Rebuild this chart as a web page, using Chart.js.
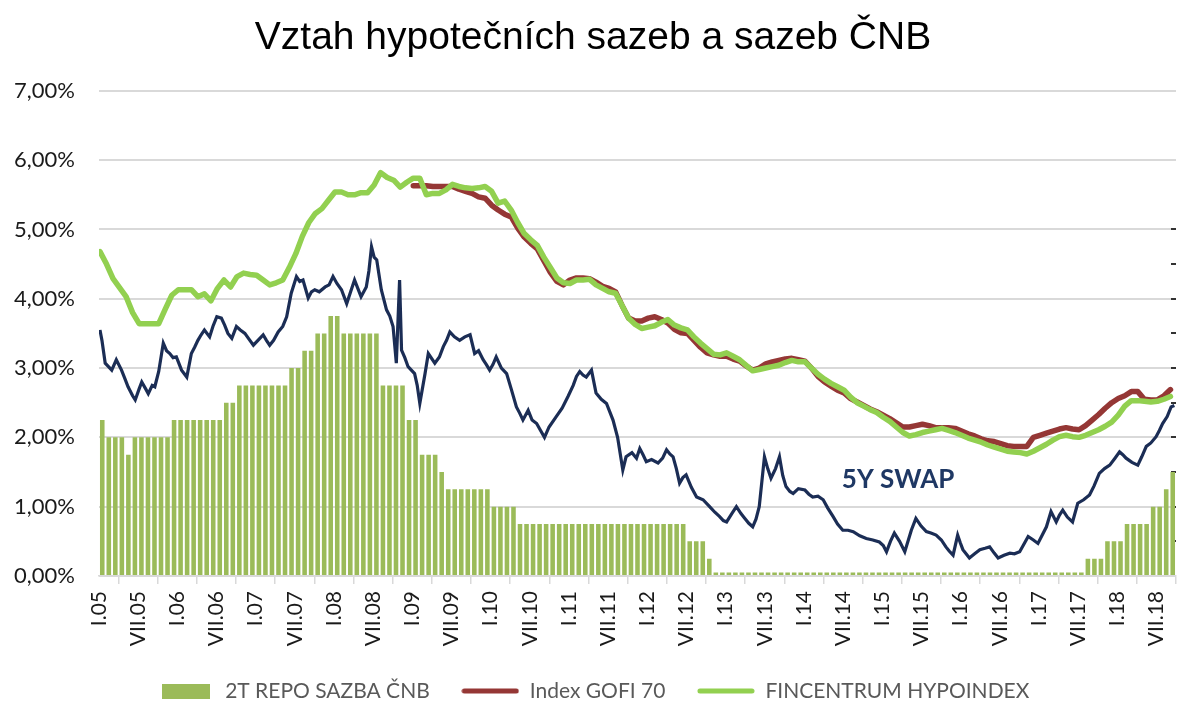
<!DOCTYPE html>
<html>
<head>
<meta charset="utf-8">
<script src="https://cdn.jsdelivr.net/npm/chart.js@4.4.1/dist/chart.umd.min.js"></script>
<style>
html,body{margin:0;padding:0;background:#fff;}
#wrap{width:1192px;height:724px;}
</style>
</head>
<body>
<div id="wrap"><canvas id="c" width="1192" height="724"></canvas></div>
<script>
const chartTitle = 'Vztah hypotečních sazeb a sazeb ČNB';
const seriesNames = ['2T REPO SAZBA ČNB', 'Index GOFI 70', 'FINCENTRUM HYPOINDEX', '5Y SWAP'];
const xTickLabels = ['I.05','VII.05','I.06','VII.06','I.07','VII.07','I.08','VII.08','I.09','VII.09',
  'I.10','VII.10','I.11','VII.11','I.12','VII.12','I.13','VII.13','I.14','VII.14','I.15','VII.15',
  'I.16','VII.16','I.17','VII.17','I.18','VII.18'];
const yTickValues = [0, 1, 2, 3, 4, 5, 6, 7];
const rightTickValues = [0.5, 1, 1.5, 2, 2.5, 3, 3.5, 4, 4.5, 5];

// monthly values, January 2005 .. September 2018 (one row per year)
const repoRate = [
  2.25,2.00,2.00,2.00,1.75,2.00,2.00,2.00,2.00,2.00,2.00,2.25,
  2.25,2.25,2.25,2.25,2.25,2.25,2.25,2.50,2.50,2.75,2.75,2.75,
  2.75,2.75,2.75,2.75,2.75,3.00,3.00,3.25,3.25,3.50,3.50,3.75,
  3.75,3.50,3.50,3.50,3.50,3.50,3.50,2.75,2.75,2.75,2.75,2.25,
  2.25,1.75,1.75,1.75,1.50,1.25,1.25,1.25,1.25,1.25,1.25,1.25,
  1.00,1.00,1.00,1.00,0.75,0.75,0.75,0.75,0.75,0.75,0.75,0.75,
  0.75,0.75,0.75,0.75,0.75,0.75,0.75,0.75,0.75,0.75,0.75,0.75,
  0.75,0.75,0.75,0.75,0.75,0.75,0.50,0.50,0.50,0.25,0.05,0.05,
  0.05,0.05,0.05,0.05,0.05,0.05,0.05,0.05,0.05,0.05,0.05,0.05,
  0.05,0.05,0.05,0.05,0.05,0.05,0.05,0.05,0.05,0.05,0.05,0.05,
  0.05,0.05,0.05,0.05,0.05,0.05,0.05,0.05,0.05,0.05,0.05,0.05,
  0.05,0.05,0.05,0.05,0.05,0.05,0.05,0.05,0.05,0.05,0.05,0.05,
  0.05,0.05,0.05,0.05,0.05,0.05,0.05,0.25,0.25,0.25,0.50,0.50,
  0.50,0.75,0.75,0.75,0.75,1.00,1.00,1.25,1.50
];

const gofi70 = [
  null,null,null,null,null,null,null,null,null,null,null,null,
  null,null,null,null,null,null,null,null,null,null,null,null,
  null,null,null,null,null,null,null,null,null,null,null,null,
  null,null,null,null,null,null,null,null,null,null,null,null,
  5.63,5.63,5.63,5.62,5.62,5.62,5.62,5.58,5.55,5.52,5.47,5.45,
  5.35,5.28,5.22,5.18,5.02,4.89,4.80,4.72,4.55,4.38,4.25,4.20,
  4.27,4.30,4.30,4.29,4.24,4.18,4.15,4.10,3.90,3.72,3.68,3.68,
  3.72,3.74,3.70,3.65,3.56,3.51,3.50,3.40,3.30,3.22,3.19,3.17,
  3.17,3.13,3.10,3.03,2.97,3.00,3.06,3.09,3.11,3.13,3.14,3.12,
  3.10,3.00,2.88,2.80,2.74,2.68,2.64,2.56,2.51,2.46,2.41,2.37,
  2.32,2.27,2.21,2.15,2.15,2.17,2.19,2.17,2.14,2.14,2.14,2.13,
  2.09,2.05,2.02,1.98,1.95,1.94,1.91,1.88,1.87,1.87,1.87,2.00,
  2.03,2.06,2.09,2.12,2.14,2.12,2.11,2.17,2.25,2.33,2.42,2.50,
  2.56,2.60,2.66,2.66,2.55,2.54,2.54,2.60,2.69
];

const hypoindex = [
  4.68,4.50,4.29,4.16,4.03,3.80,3.64,3.64,3.64,3.64,3.85,4.05,
  4.13,4.13,4.13,4.03,4.07,3.97,4.15,4.27,4.17,4.32,4.37,4.35,
  4.34,4.27,4.20,4.23,4.27,4.45,4.65,4.90,5.10,5.23,5.30,5.42,
  5.54,5.54,5.50,5.50,5.53,5.53,5.64,5.82,5.75,5.71,5.61,5.68,
  5.74,5.74,5.50,5.52,5.52,5.57,5.65,5.62,5.60,5.59,5.60,5.62,
  5.55,5.38,5.41,5.28,5.10,4.94,4.85,4.77,4.60,4.45,4.30,4.23,
  4.22,4.27,4.27,4.28,4.20,4.15,4.10,4.08,3.90,3.72,3.63,3.57,
  3.59,3.61,3.66,3.70,3.62,3.58,3.55,3.45,3.36,3.28,3.20,3.19,
  3.22,3.17,3.12,3.04,2.96,2.98,3.00,3.02,3.04,3.08,3.11,3.09,
  3.09,3.00,2.91,2.84,2.78,2.73,2.68,2.58,2.50,2.45,2.40,2.36,
  2.29,2.23,2.15,2.07,2.02,2.04,2.07,2.09,2.11,2.13,2.10,2.07,
  2.03,1.99,1.96,1.93,1.89,1.86,1.83,1.80,1.79,1.78,1.76,1.80,
  1.85,1.90,1.96,2.01,2.03,2.01,2.00,2.03,2.07,2.11,2.16,2.22,
  2.32,2.45,2.53,2.53,2.52,2.51,2.52,2.55,2.59
];

// 5Y swap: readings at fractional month positions (months since Jan 2005)
const swapMonth = [
  0.0,0.3,0.8,1.3,1.8,2.5,3.3,3.8,4.3,5.0,5.4,6.0,6.4,7.0,7.4,8.0,8.4,9.0,9.7,10.2,10.7,11.2,11.7,
  12.5,13.3,14.0,14.5,15.0,15.5,16.0,16.8,17.3,17.9,18.6,19.1,19.6,20.2,20.9,21.5,22.2,22.8,23.5,
  24.2,25.0,25.5,26.0,26.6,27.3,28.0,28.6,29.3,30.1,30.6,31.1,31.9,32.4,32.9,33.6,34.5,35.1,35.7,
  36.3,37.0,37.8,38.4,39.0,39.5,40.0,40.8,41.2,41.6,42.0,42.4,43.1,43.9,44.4,44.9,45.4,45.9,46.2,46.7,47.2,
  48.2,48.6,49.0,49.8,50.3,51.3,52.0,52.6,53.1,53.6,54.3,55.1,55.9,56.7,57.4,58.0,58.7,59.2,59.7,
  60.2,60.7,61.5,62.3,63.0,63.8,64.3,64.8,65.6,66.2,66.9,67.5,68.1,68.8,69.9,70.8,71.7,
  72.5,73.0,73.5,74.0,74.5,75.3,76.0,76.8,77.6,78.6,79.3,80.1,80.6,81.5,82.2,82.7,83.2,83.7,
  84.5,85.5,86.2,86.8,87.3,87.8,88.3,88.8,89.3,89.8,90.6,91.4,92.4,93.4,94.2,94.9,95.5,
  96.0,96.8,97.5,98.2,98.8,99.4,100.0,100.5,101.0,101.8,102.3,102.8,103.5,104.1,104.6,105.1,105.7,106.2,107.0,
  108.0,108.6,109.2,110.0,110.8,111.5,112.3,113.0,113.8,114.6,115.4,116.4,117.4,118.4,119.4,
  120.0,120.5,121.1,121.7,122.5,123.3,124.3,125.0,125.8,126.6,127.3,128.1,128.9,129.6,130.1,130.7,131.4,131.8,
  132.2,133.2,134.0,134.8,135.6,136.3,137.0,137.6,138.5,139.4,140.1,140.9,141.5,142.2,143.0,143.7,
  144.4,145.0,145.7,146.5,147.0,147.5,148.2,149.0,149.8,150.7,151.6,152.3,153.1,153.9,154.7,155.5,
  156.2,156.7,157.2,158.1,159.0,159.6,160.3,161.0,161.8,162.3,162.8,163.5,164.1,164.6
];
const swapRate = [
  3.55,3.40,3.07,3.02,2.97,3.12,2.97,2.85,2.73,2.60,2.54,2.70,2.80,2.70,2.63,2.75,2.73,2.95,3.36,3.25,3.21,3.15,3.16,
  2.97,2.87,3.21,3.30,3.40,3.48,3.55,3.45,3.60,3.74,3.72,3.62,3.50,3.43,3.60,3.55,3.50,3.42,3.33,
  3.40,3.48,3.40,3.33,3.40,3.52,3.60,3.74,4.08,4.32,4.25,4.27,4.01,4.10,4.13,4.10,4.17,4.20,4.32,
  4.22,4.13,3.93,4.10,4.27,4.15,4.03,4.17,4.40,4.75,4.60,4.56,4.13,3.84,3.75,3.60,3.07,4.27,3.26,3.15,3.02,
  2.92,2.75,2.49,2.92,3.21,3.07,3.16,3.31,3.40,3.52,3.45,3.40,3.45,3.48,3.21,3.25,3.12,3.05,2.97,
  3.05,3.16,3.00,2.92,2.70,2.44,2.35,2.25,2.39,2.25,2.20,2.10,2.00,2.15,2.30,2.42,2.59,
  2.75,2.88,2.95,2.90,2.87,2.97,2.64,2.55,2.49,2.25,2.00,1.53,1.72,1.78,1.70,1.84,1.75,1.65,
  1.68,1.63,1.70,1.82,1.76,1.72,1.55,1.34,1.42,1.46,1.28,1.14,1.10,1.00,0.92,0.86,0.80,
  0.78,0.90,1.00,0.90,0.83,0.76,0.71,0.82,1.00,1.72,1.55,1.41,1.55,1.72,1.45,1.29,1.22,1.19,1.26,
  1.24,1.18,1.14,1.15,1.10,0.98,0.86,0.75,0.66,0.66,0.64,0.58,0.54,0.52,0.49,
  0.44,0.35,0.50,0.62,0.50,0.35,0.66,0.83,0.72,0.64,0.62,0.59,0.52,0.42,0.36,0.30,0.59,0.48,
  0.38,0.26,0.32,0.38,0.40,0.42,0.33,0.26,0.30,0.33,0.32,0.35,0.45,0.57,0.52,0.47,
  0.60,0.71,0.93,0.78,0.88,0.95,0.85,0.78,1.05,1.10,1.17,1.30,1.48,1.55,1.60,1.70,
  1.79,1.75,1.70,1.64,1.60,1.72,1.87,1.92,2.01,2.10,2.20,2.30,2.44,2.46
];

const swapLabel = { text: '5Y SWAP', month: 113.8, value: 1.39 };

const colors = { repo: '#9bbb59', gofi: '#953735', hypo: '#92d050', swap: '#1b2d55', grid: '#d9d9d9' };

function lineIcon(color) {
  const cv = document.createElement('canvas');
  cv.width = 58; cv.height = 8;
  const g = cv.getContext('2d');
  g.strokeStyle = color; g.lineWidth = 5; g.lineCap = 'round';
  g.beginPath(); g.moveTo(3, 4); g.lineTo(55, 4); g.stroke();
  return cv;
}
function boxIcon(color) {
  const cv = document.createElement('canvas');
  cv.width = 48; cv.height = 15;
  const g = cv.getContext('2d');
  g.fillStyle = color; g.fillRect(0, 0, 48, 15);
  return cv;
}
const legendIcons = [boxIcon(colors.repo), lineIcon(colors.gofi), lineIcon(colors.hypo)];

const swapLabelPlugin = {
  id: 'swapLabel',
  afterDatasetsDraw(chart) {
    const { ctx, scales } = chart;
    ctx.save();
    ctx.font = 'bold 26px Lato';
    ctx.fillStyle = '#1f3864';
    ctx.textAlign = 'left';
    ctx.textBaseline = 'middle';
    ctx.fillText(swapLabel.text, scales.x.getPixelForValue(swapLabel.month), scales.y.getPixelForValue(swapLabel.value));
    ctx.restore();
  }
};

Chart.defaults.font.family = 'Lato';

new Chart(document.getElementById('c'), {
  type: 'line',
  data: {
    datasets: [
      {
        type: 'bar', label: seriesNames[0], yAxisID: 'y',
        data: repoRate.map((v, i) => ({ x: i + 0.5, y: v })),
        backgroundColor: colors.repo, borderWidth: 0,
        barPercentage: 0.7, categoryPercentage: 1.0, order: 3
      },
      {
        type: 'line', label: seriesNames[1], yAxisID: 'y',
        data: gofi70.map((v, i) => ({ x: i + 0.15, y: v })),
        borderColor: colors.gofi, backgroundColor: colors.gofi, borderWidth: 5.5,
        pointRadius: 0, tension: 0, borderCapStyle: 'round', borderJoinStyle: 'round', spanGaps: false, order: 1
      },
      {
        type: 'line', label: seriesNames[2], yAxisID: 'y',
        data: hypoindex.map((v, i) => ({ x: i + 0.15, y: v })),
        borderColor: colors.hypo, backgroundColor: colors.hypo, borderWidth: 5.5,
        pointRadius: 0, tension: 0, borderCapStyle: 'round', borderJoinStyle: 'round', order: 0
      },
      {
        type: 'line', label: seriesNames[3], yAxisID: 'y',
        data: swapMonth.map((m, i) => ({ x: m + 0.15, y: swapRate[i] })),
        borderColor: colors.swap, backgroundColor: colors.swap, borderWidth: 3.2,
        pointRadius: 0, tension: 0, borderJoinStyle: 'miter', order: 2
      }
    ]
  },
  options: {
    responsive: false,
    animation: false,
    devicePixelRatio: 1,
    layout: { padding: { left: 10, right: 16, top: 0, bottom: 12.5 } },
    scales: {
      x: {
        type: 'linear', min: 0, max: 165, offset: false,
        afterBuildTicks: (s) => { s.ticks = xTickLabels.map((l, i) => ({ value: i * 6 })); },
        ticks: {
          autoSkip: false, minRotation: 90, maxRotation: 90, padding: 7,
          color: '#1a1a1a', font: { family: 'Lato', size: 21 },
          callback: (v, i) => xTickLabels[i]
        },
        grid: { drawOnChartArea: false, drawTicks: true, tickLength: 8, color: colors.grid, lineWidth: 1.5 },
        border: { display: true, color: colors.grid, width: 1.5 },
        afterFit: (s) => { s.height = 73; }
      },
      y: {
        type: 'linear', position: 'left', min: 0, max: 7,
        afterBuildTicks: (s) => { s.ticks = yTickValues.map(v => ({ value: v })); },
        ticks: {
          padding: 24, color: '#1a1a1a', font: { family: 'Lato', size: 22 },
          callback: (v) => v.toFixed(2).replace('.', ',') + '%'
        },
        grid: { color: colors.grid, lineWidth: 2, drawTicks: false },
        border: { display: false },
        afterFit: (s) => { s.width = 89; }
      },
      y2: {
        type: 'linear', position: 'right', min: 0, max: 7,
        afterBuildTicks: (s) => { s.ticks = rightTickValues.map(v => ({ value: v })); },
        ticks: { display: false },
        grid: { drawOnChartArea: false, drawTicks: true, tickLength: -5, color: '#333', lineWidth: 2 },
        border: { display: false },
        afterFit: (s) => { s.width = 0; }
      }
    },
    plugins: {
      title: {
        display: true, text: chartTitle, color: '#000',
        font: { family: 'Liberation Sans', size: 39, weight: 'normal' },
        padding: { top: 15, bottom: 29 }
      },
      legend: {
        position: 'bottom',
        labels: {
          usePointStyle: true, pointStyleWidth: 58, boxHeight: 21,
          color: '#595959', font: { family: 'Lato', size: 21 }, padding: 31.5,
          generateLabels: (chart) => {
            const items = Chart.defaults.plugins.legend.labels.generateLabels(chart);
            return items
              .filter(it => it.datasetIndex !== 3)
              .sort((a, b) => a.datasetIndex - b.datasetIndex)
              .map(it => Object.assign(it, { pointStyle: legendIcons[it.datasetIndex] }));
          }
        }
      },
      tooltip: { enabled: false }
    }
  },
  plugins: [swapLabelPlugin]
});
</script>
</body>
</html>
